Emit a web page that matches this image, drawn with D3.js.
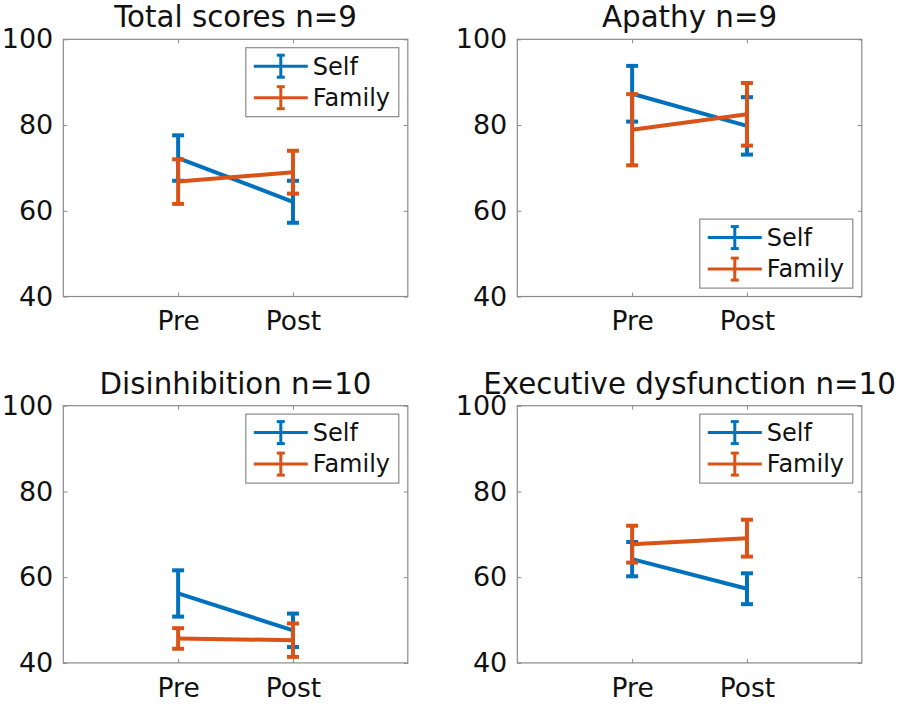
<!DOCTYPE html>
<meta charset="utf-8">
<script src="https://d3js.org/d3.v7.min.js"></script>
<style>
  body { margin: 0; background: #fff; }
  text { font-family: "DejaVu Sans", sans-serif; fill: #111; }
</style>
<body>
<div id="canvas"></div>
<script>
  // dados
  var groups = ["Pre", "Post"];
  var titles = ["Total scores n=9", "Apathy n=9", "Disinhibition n=10", "Executive dysfunction n=10"];
  var seriesNames = ["Self", "Family"];
  var selfMean = [[72.3, 62.1], [87.3, 79.8], [56.2, 47.6], [64.2, 57.3]];
  var selfErr = [[5.3, 4.9], [6.5, 6.7], [5.4, 3.9], [4.0, 3.6]];
  var familyMean = [[66.8, 69.0], [78.9, 82.5], [45.7, 45.3], [67.7, 69.1]];
  var familyErr = [[5.2, 5.0], [8.3, 7.3], [2.4, 3.9], [4.3, 4.3]];
  var yTicks = [40, 60, 80, 100];

  var width = 900, height = 708;
  var colors = ["#0072BD", "#D95319"];

  // posicao de cada painel
  var panels = [
    { x: 63.3, y: 39.3, legend: "ne" },
    { x: 517.3, y: 39.3, legend: "se" },
    { x: 63.3, y: 405.7, legend: "ne" },
    { x: 517.3, y: 405.7, legend: "ne" }
  ];
  var pw = 344.5, ph = 257.2;

  var svg = d3.select("#canvas").append("svg")
    .attr("width", width)
    .attr("height", height);

  var xScale = d3.scalePoint().domain(["", "Pre", "Post", " "]).range([0, pw]);
  var yScale = d3.scaleLinear().domain([40, 100]).range([ph, 0]);

  panels.forEach(function(p, k) {
    var g = svg.append("g").attr("transform", "translate(" + p.x + "," + p.y + ")");

    // caixa
    g.append("rect")
      .attr("width", pw).attr("height", ph)
      .attr("fill", "none").attr("stroke", "#8a8a8a").attr("stroke-width", 1.2);

    var yAxis = g.append("g").call(d3.axisLeft(yScale).tickValues(yTicks).tickSize(-4).tickPadding(10));
    var yAxisR = g.append("g").attr("transform", "translate(" + pw + ",0)")
      .call(d3.axisRight(yScale).tickValues(yTicks).tickSize(-4).tickFormat(""));
    var xAxis = g.append("g").attr("transform", "translate(0," + ph + ")")
      .call(d3.axisBottom(xScale).tickValues(groups).tickSize(-4).tickPadding(15));
    var xAxisT = g.append("g")
      .call(d3.axisTop(xScale).tickValues(groups).tickSize(-4).tickFormat(""));

    [yAxis, yAxisR, xAxis, xAxisT].forEach(function(a) {
      a.select(".domain").remove();
      a.selectAll("line").attr("stroke", "#8a8a8a");
      a.selectAll("text").style("font-size", "27px").attr("fill", "#111");
    });
    xAxis.selectAll("text").attr("dy", "0.71em").style("font-size", "26.5px");

    // titulo
    g.append("text")
      .attr("x", pw / 2).attr("y", -12)
      .attr("text-anchor", "middle")
      .style("font-size", "29.3px")
      .text(titles[k]);

    var series = [
      { mean: selfMean[k], err: selfErr[k] },
      { mean: familyMean[k], err: familyErr[k] }
    ];

    series.forEach(function(s, si) {
      var pts = groups.map(function(gr, i) { return { x: xScale(gr), m: s.mean[i], e: s.err[i] }; });
      var sg = g.append("g").attr("stroke", colors[si]).attr("fill", "none");

      sg.append("path")
        .attr("d", d3.line().x(function(d) { return d.x; }).y(function(d) { return yScale(d.m); })(pts))
        .attr("stroke-width", 4);

      pts.forEach(function(d) {
        sg.append("line")
          .attr("x1", d.x).attr("x2", d.x)
          .attr("y1", yScale(d.m - d.e)).attr("y2", yScale(d.m + d.e))
          .attr("stroke-width", 4);
        [d.m - d.e, d.m + d.e].forEach(function(v) {
          sg.append("line")
            .attr("x1", d.x - 6).attr("x2", d.x + 6)
            .attr("y1", yScale(v)).attr("y2", yScale(v))
            .attr("stroke-width", 4);
        });
      });
    });

    // legenda
    var lw = 153, lh = 69;
    var lx = pw - lw - 9;
    var ly = p.legend == "ne" ? 8.4 : ph - lh - 8.4;
    var lg = g.append("g").attr("transform", "translate(" + lx + "," + ly + ")");
    lg.append("rect")
      .attr("width", lw).attr("height", lh)
      .attr("fill", "#fff").attr("stroke", "#8a8a8a").attr("stroke-width", 1.2);

    seriesNames.forEach(function(name, si) {
      var ry = 18.5 + si * 31.5;
      var eg = lg.append("g").attr("stroke", colors[si]);
      eg.append("line").attr("x1", 8).attr("x2", 62).attr("y1", ry).attr("y2", ry).attr("stroke-width", 3);
      eg.append("line").attr("x1", 35).attr("x2", 35).attr("y1", ry - 11).attr("y2", ry + 11).attr("stroke-width", 3);
      eg.append("line").attr("x1", 31).attr("x2", 39).attr("y1", ry - 11).attr("y2", ry - 11).attr("stroke-width", 3);
      eg.append("line").attr("x1", 31).attr("x2", 39).attr("y1", ry + 11).attr("y2", ry + 11).attr("stroke-width", 3);
      lg.append("text")
        .attr("x", 67).attr("y", ry)
        .attr("dy", "0.35em")
        .style("font-size", "24px")
        .text(name);
    });
  });
</script>
</body>
